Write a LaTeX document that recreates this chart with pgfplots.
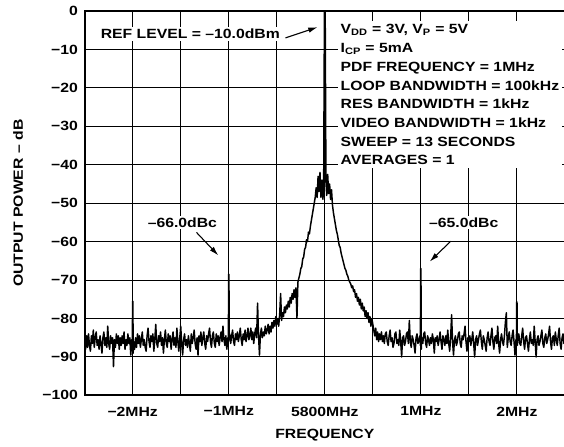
\documentclass[border=0pt]{standalone}
\usepackage{fontspec}
\setmainfont{Liberation Sans}[UprightFont=* Bold, BoldFont=* Bold, FakeStretch=1.18]
\usepackage{pgfplots}
\pgfplotsset{compat=1.18}
\usetikzlibrary{arrows.meta}
\begin{document}
\begin{tikzpicture}[font=\bfseries]
\begin{axis}[name=ax, scale only axis, width=359.6pt, height=287.8pt,
  xmin=-2.5, xmax=2.5, ymin=-100, ymax=0,
  xtick={-2.5,-2,-1.5,-1,-0.5,0,0.5,1,1.5,2,2.5},
  xticklabels={,−2MHz,,−1MHz,,5800MHz,,1MHz,,2MHz,},
  ytick={-100,-90,-80,-70,-60,-50,-40,-30,-20,-10,0},
  yticklabels={−100,−90,−80,−70,−60,−50,−40,−30,−20,−10,0},
  tick label style={font=\bfseries},
  yticklabel style={xshift=-1.5pt},
  xticklabel style={yshift=-5pt},
  grid=major, major grid style={black, line width=0.8pt},
  axis line style={line width=1.4pt},
  major tick length=0pt,
  xlabel={FREQUENCY}, ylabel={OUTPUT POWER – dB},
  xlabel style={at={(rel axis cs:0.5,0)}, anchor=center, yshift=-29.5pt, font=\bfseries},
  ylabel style={at={(rel axis cs:0,0.5)}, anchor=center, yshift=49.9pt, font=\bfseries},
]
\addplot[black, line width=1.1pt, line join=round] coordinates {
(-2.50,-85.5)(-2.49,-88.0)(-2.48,-84.5)(-2.47,-87.5)(-2.46,-84.0)(-2.45,-87.0)(-2.44,-88.5)(-2.43,-84.5)(-2.42,-86.5)(-2.41,-83.0)
(-2.40,-87.5)(-2.39,-85.0)(-2.38,-83.5)(-2.37,-87.0)(-2.36,-85.5)(-2.35,-88.0)(-2.34,-84.5)(-2.33,-86.5)(-2.32,-89.0)(-2.31,-85.0)
(-2.30,-83.5)(-2.29,-87.0)(-2.28,-85.0)(-2.27,-87.5)(-2.26,-82.0)(-2.25,-86.5)(-2.24,-88.0)(-2.23,-84.5)(-2.22,-86.5)(-2.21,-85.0)
(-2.20,-92.5)(-2.19,-85.5)(-2.18,-87.5)(-2.17,-84.0)(-2.16,-86.5)(-2.15,-84.5)(-2.14,-88.0)(-2.13,-85.0)(-2.12,-87.0)(-2.11,-84.5)
(-2.10,-86.5)(-2.09,-83.5)(-2.08,-88.0)(-2.07,-85.5)(-2.06,-87.0)(-2.05,-84.0)(-2.04,-86.5)(-2.03,-85.0)(-2.02,-89.5)(-2.01,-85.5)
(-2.004,-87.0)(-2.001,-75.5)(-1.998,-75.5)(-1.995,-89.0)
(-1.99,-86.0)(-1.98,-88.0)(-1.97,-85.0)(-1.96,-87.5)(-1.95,-84.0)(-1.94,-86.5)(-1.93,-84.5)(-1.92,-87.5)(-1.91,-85.5)(-1.90,-83.5)
(-1.89,-87.0)(-1.88,-85.5)(-1.87,-87.5)(-1.86,-88.5)(-1.85,-84.5)(-1.84,-82.5)(-1.83,-86.0)(-1.82,-87.5)(-1.81,-84.5)(-1.80,-86.0)
(-1.79,-84.0)(-1.78,-88.5)(-1.77,-85.5)(-1.76,-81.5)(-1.75,-86.5)(-1.74,-87.5)(-1.73,-84.5)(-1.72,-86.0)(-1.71,-83.5)(-1.70,-87.0)
(-1.69,-85.0)(-1.68,-89.0)(-1.67,-85.5)(-1.66,-83.0)(-1.65,-86.5)(-1.64,-87.5)(-1.63,-84.0)(-1.62,-86.0)(-1.61,-84.5)(-1.60,-88.0)
(-1.59,-85.5)(-1.58,-83.5)(-1.57,-87.0)(-1.56,-85.0)(-1.55,-87.5)(-1.54,-82.5)(-1.53,-86.0)(-1.52,-88.5)(-1.51,-85.0)(-1.50,-82.0)
(-1.49,-86.5)(-1.48,-89.5)(-1.47,-85.5)(-1.46,-84.0)(-1.45,-87.0)(-1.44,-85.5)(-1.43,-87.5)(-1.42,-84.5)(-1.41,-86.5)(-1.40,-88.5)
(-1.39,-84.0)(-1.38,-86.5)(-1.37,-85.0)(-1.36,-83.0)(-1.35,-86.5)(-1.34,-88.0)(-1.33,-85.0)(-1.32,-89.5)(-1.31,-84.5)(-1.30,-86.0)
(-1.29,-83.5)(-1.28,-87.0)(-1.27,-85.0)(-1.26,-83.5)(-1.25,-86.5)(-1.24,-88.0)(-1.23,-84.5)(-1.22,-86.0)(-1.21,-84.0)(-1.20,-82.5)
(-1.19,-86.0)(-1.18,-87.5)(-1.17,-84.5)(-1.16,-83.5)(-1.15,-86.5)(-1.14,-87.5)(-1.13,-84.0)(-1.12,-86.0)(-1.11,-84.5)(-1.10,-87.0)
(-1.09,-85.0)(-1.08,-83.5)(-1.07,-86.0)(-1.06,-82.0)(-1.05,-85.5)(-1.04,-87.0)(-1.03,-84.5)(-1.02,-88.0)(-1.01,-85.0)
(-1.004,-86.0)(-1.001,-68.5)(-0.998,-68.5)(-0.995,-85.5)
(-0.99,-84.0)(-0.98,-86.5)(-0.97,-84.5)(-0.96,-83.0)(-0.95,-86.0)(-0.94,-87.0)(-0.93,-84.0)(-0.92,-85.5)(-0.91,-83.5)(-0.90,-86.0)
(-0.89,-84.5)(-0.88,-82.5)(-0.87,-85.5)(-0.86,-87.0)(-0.85,-84.0)(-0.84,-85.5)(-0.83,-83.0)(-0.82,-86.0)(-0.81,-84.5)(-0.80,-82.5)
(-0.79,-85.5)(-0.78,-84.5)(-0.77,-82.5)(-0.76,-85.5)(-0.75,-83.5)(-0.74,-86.5)(-0.73,-84.0)(-0.72,-82.5)(-0.71,-85.0)(-0.70,-76.0)
(-0.69,-84.5)(-0.68,-89.5)(-0.67,-84.0)(-0.66,-82.5)(-0.65,-85.0)(-0.64,-83.5)(-0.63,-84.5)(-0.62,-82.0)(-0.61,-84.0)
(-0.60,-83.0)(-0.59,-81.5)(-0.58,-84.0)(-0.57,-82.0)(-0.56,-83.5)(-0.55,-81.0)(-0.54,-82.5)(-0.53,-80.5)(-0.52,-82.0)(-0.51,-79.5)
(-0.50,-81.5)(-0.49,-80.0)(-0.48,-82.0)(-0.47,-79.0)(-0.46,-73.5)(-0.45,-80.5)(-0.44,-78.5)(-0.43,-79.5)(-0.42,-77.0)(-0.41,-78.5)
(-0.40,-76.5)(-0.39,-77.5)(-0.38,-75.5)(-0.37,-77.0)(-0.36,-74.5)(-0.35,-76.0)(-0.34,-73.5)(-0.33,-75.0)(-0.32,-72.5)(-0.31,-74.5)
(-0.30,-72.0)(-0.29,-80.0)(-0.28,-70.5)(-0.27,-69.5)(-0.26,-68.5)(-0.25,-67.0)(-0.24,-66.5)(-0.23,-64.5)(-0.22,-64.0)(-0.21,-62.0)
(-0.20,-61.5)(-0.19,-59.5)(-0.18,-60.0)(-0.17,-57.5)(-0.16,-58.0)(-0.15,-56.0)(-0.14,-54.5)(-0.13,-53.0)(-0.12,-51.5)(-0.11,-50.0)
(-0.10,-48.5)(-0.09,-46.0)(-0.08,-48.5)(-0.07,-43.0)(-0.06,-47.0)(-0.05,-42.0)(-0.04,-48.5)(-0.03,-44.0)(-0.02,-49.0)(-0.012,-46.0)
(-0.004,0)(0.004,0)(0.012,-44.5)(0.02,-48.0)(0.03,-42.5)(0.04,-47.5)(0.05,-45.0)(0.06,-49.0)(0.07,-46.5)(0.08,-50.5)
(0.09,-52.5)(0.10,-54.0)(0.11,-55.5)(0.12,-57.0)(0.13,-58.0)(0.14,-59.5)(0.15,-61.0)(0.16,-61.5)(0.17,-63.0)(0.18,-64.0)
(0.19,-65.0)(0.20,-66.0)(0.21,-67.0)(0.22,-67.5)(0.23,-68.5)(0.24,-69.0)(0.25,-70.0)(0.26,-70.5)(0.27,-71.0)(0.28,-72.0)
(0.29,-71.5)(0.30,-73.0)(0.31,-72.5)(0.32,-74.5)(0.33,-73.5)(0.34,-75.5)(0.35,-74.5)(0.36,-76.5)(0.37,-75.0)(0.38,-77.5)
(0.39,-76.0)(0.40,-78.0)(0.41,-77.0)(0.42,-79.5)(0.43,-78.0)(0.44,-80.0)(0.45,-78.5)(0.46,-81.0)(0.47,-79.5)(0.48,-82.0)
(0.49,-80.0)(0.50,-81.5)(0.51,-83.0)(0.52,-84.5)(0.53,-82.5)(0.54,-85.5)(0.55,-83.5)(0.56,-86.0)(0.57,-84.0)(0.58,-85.5)
(0.59,-83.5)(0.60,-86.0)
(0.61,-84.5)(0.62,-86.5)(0.63,-84.0)(0.64,-83.5)(0.65,-86.0)(0.66,-87.0)(0.67,-84.5)(0.68,-83.0)(0.69,-86.0)(0.70,-85.0)
(0.71,-87.5)(0.72,-86.5)(0.73,-84.0)(0.74,-83.5)(0.75,-86.5)(0.76,-85.5)(0.77,-87.0)(0.78,-83.0)(0.79,-86.0)(0.80,-90.0)
(0.81,-85.0)(0.82,-84.5)(0.83,-87.0)(0.84,-86.0)(0.85,-84.0)(0.86,-83.5)(0.87,-86.5)(0.88,-80.5)(0.89,-86.0)(0.90,-87.5)
(0.91,-84.5)(0.92,-85.5)(0.93,-87.0)(0.94,-89.0)(0.95,-85.0)(0.96,-84.0)(0.97,-86.5)(0.98,-85.5)(0.99,-84.5)
(0.995,-87.0)(0.998,-67.0)(1.001,-67.0)(1.004,-88.0)
(1.01,-85.0)(1.02,-86.5)(1.03,-84.0)(1.04,-83.5)(1.05,-86.5)(1.06,-87.5)(1.07,-84.5)(1.08,-85.5)(1.09,-87.0)(1.10,-85.0)
(1.11,-86.5)(1.12,-84.0)(1.13,-85.5)(1.14,-89.0)(1.15,-85.0)(1.16,-86.0)(1.17,-84.5)(1.18,-87.0)(1.19,-85.5)(1.20,-83.5)
(1.21,-86.0)(1.22,-88.0)(1.23,-84.5)(1.24,-85.5)(1.25,-87.0)(1.26,-84.5)(1.27,-86.5)(1.28,-83.0)(1.29,-86.5)(1.30,-88.5)
(1.31,-85.0)(1.32,-79.0)(1.33,-86.0)(1.34,-89.5)(1.35,-85.5)(1.36,-84.5)(1.37,-87.0)(1.38,-86.0)(1.39,-84.0)(1.40,-83.5)
(1.41,-86.5)(1.42,-87.5)(1.43,-84.5)(1.44,-85.5)(1.45,-84.0)(1.46,-82.0)(1.47,-86.0)(1.48,-88.5)(1.49,-85.0)(1.50,-86.0)
(1.51,-84.5)(1.52,-87.0)(1.53,-85.5)(1.54,-83.5)(1.55,-86.5)(1.56,-90.0)(1.57,-85.5)(1.58,-84.5)(1.59,-87.0)(1.60,-85.5)
(1.61,-84.0)(1.62,-83.0)(1.63,-86.0)(1.64,-88.0)(1.65,-84.5)(1.66,-85.5)(1.67,-87.0)(1.68,-88.5)(1.69,-85.0)(1.70,-83.5)
(1.71,-86.0)(1.72,-87.0)(1.73,-84.5)(1.74,-82.5)(1.75,-86.0)(1.76,-88.0)(1.77,-85.0)(1.78,-84.5)(1.79,-86.5)(1.80,-82.0)
(1.81,-86.5)(1.82,-89.0)(1.83,-85.5)(1.84,-84.0)(1.85,-86.0)(1.86,-87.0)(1.87,-84.5)(1.88,-81.0)(1.89,-78.5)(1.90,-87.5)
(1.91,-85.0)(1.92,-83.5)(1.93,-86.0)(1.94,-87.0)(1.95,-84.5)(1.96,-83.0)(1.97,-86.0)(1.98,-89.5)(1.99,-85.5)
(1.995,-86.0)(1.998,-75.7)(2.001,-75.7)(2.004,-87.0)
(2.01,-85.5)(2.02,-84.0)(2.03,-86.5)(2.04,-87.0)(2.05,-84.5)(2.06,-82.5)(2.07,-86.0)(2.08,-88.0)(2.09,-85.0)(2.10,-84.5)
(2.11,-86.5)(2.12,-88.5)(2.13,-85.5)(2.14,-83.5)(2.15,-86.5)(2.16,-85.5)(2.17,-87.0)(2.18,-82.0)(2.19,-86.0)(2.20,-90.0)
(2.21,-85.5)(2.22,-84.5)(2.23,-87.0)(2.24,-86.0)(2.25,-84.5)(2.26,-83.0)(2.27,-86.5)(2.28,-87.5)(2.29,-85.0)(2.30,-84.0)
(2.31,-86.5)(2.32,-85.5)(2.33,-84.0)(2.34,-82.0)(2.35,-86.0)(2.36,-88.0)(2.37,-85.0)(2.38,-84.5)(2.39,-87.0)(2.40,-83.5)
(2.41,-85.5)(2.42,-87.0)(2.43,-84.5)(2.44,-82.5)(2.45,-86.5)(2.46,-88.0)(2.47,-85.0)(2.48,-84.0)(2.49,-86.5)(2.50,-85.5)
};
\node[fill=white, inner sep=1.5pt, font=\bfseries] at (axis cs:-1.40,-6.0) {REF LEVEL = –10.0dBm};
\draw[-{Latex[length=7pt,width=4pt]}, line width=0.8pt] (axis cs:-0.41,-7.0) -- (axis cs:-0.075,-4.2);
\node[fill=white, inner sep=1.5pt, font=\bfseries] at (axis cs:-1.483,-55.0) {–66.0dBc};
\draw[-{Latex[length=7pt,width=4pt]}, line width=0.8pt] (axis cs:-1.336,-57.6) -- (axis cs:-1.108,-63.6);
\node[fill=white, inner sep=1.5pt, font=\bfseries] at (axis cs:1.447,-55.0) {–65.0dBc};
\draw[-{Latex[length=7pt,width=4pt]}, line width=0.8pt] (axis cs:1.311,-59.9) -- (axis cs:1.092,-65.2);
\node[anchor=north west, fill=white, inner xsep=2pt, inner ysep=2.5pt, align=left,
  font=\bfseries\fontsize{10}{14}\selectfont] at (axis cs:0.135,-2.6)
{V\textsubscript{DD} = 3V, V\textsubscript{P} = 5V\\
I\textsubscript{CP} = 5mA\\
PDF FREQUENCY = 1MHz\\
LOOP BANDWIDTH = 100kHz\\
RES BANDWIDTH = 1kHz\\
VIDEO BANDWIDTH = 1kHz\\
SWEEP = 13 SECONDS\\
AVERAGES = 1};
\end{axis}
\pgfresetboundingbox
\path ([xshift=-63.4pt,yshift=-38.5pt]ax.south west) rectangle ([xshift=-0.7pt,yshift=8.25pt]ax.north east);
\end{tikzpicture}
\end{document}
